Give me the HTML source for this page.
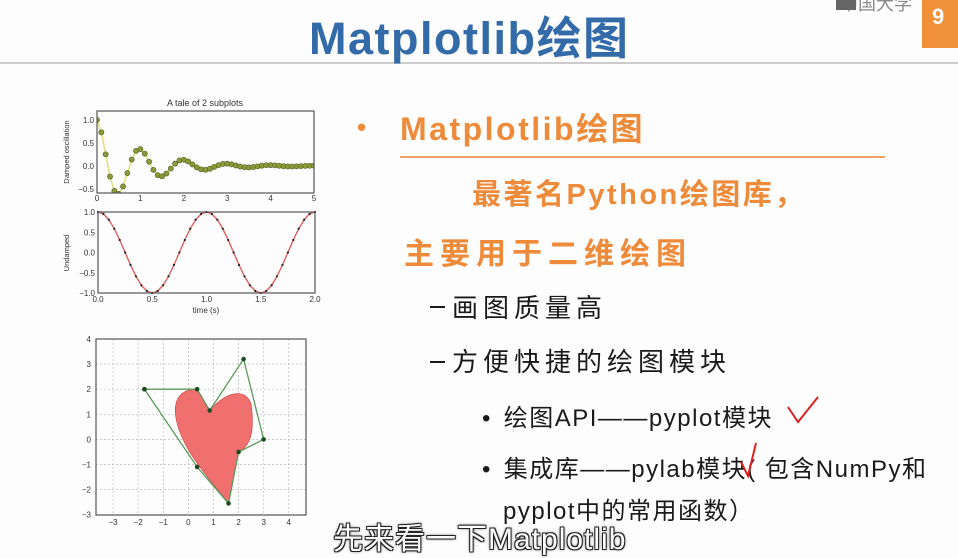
<!DOCTYPE html>
<html><head><meta charset="utf-8"><style>
body{margin:0;width:958px;height:555px;overflow:hidden;background:#fdfdfd;position:relative;font-family:"Liberation Sans","Noto Sans CJK SC",sans-serif}
.a{position:absolute;white-space:nowrap}
.o{color:#ee8b3a;font-weight:bold}
.k{color:#1a1a1a}
</style></head><body>
<div class="a" style="left:922px;top:0;width:36px;height:48px;background:#f0913a"></div>
<div class="a" style="left:932px;top:4px;color:#fff;font-weight:bold;font-size:22px">9</div>
<div class="a" style="left:840px;top:-10px;color:#888;font-size:18px">中国大学</div>
<div class="a" style="left:836px;top:0;width:20px;height:10px;background:#666"></div>
<div class="a" style="left:0;top:62px;width:958px;height:2px;background:#ccc"></div>
<div class="a" style="left:309px;top:2px;color:#336ba8;font-weight:bold;font-size:45px;letter-spacing:1.5px">Matplotlib绘图</div>

<div class="a o" style="left:357px;top:112px;font-size:26px">•</div>
<div class="a o" style="left:400px;top:104px;font-size:32px;letter-spacing:2.5px">Matplotlib绘图</div>
<div class="a" style="left:400px;top:156px;width:485px;height:2px;background:#f0a060"></div>
<div class="a o" style="left:472px;top:171px;font-size:29px;letter-spacing:2.5px">最著名Python绘图库，</div>
<div class="a o" style="left:404px;top:229px;font-size:30px;letter-spacing:6px">主要用于二维绘图</div>
<div class="a" style="left:430px;top:306px;width:15px;height:2px;background:#1a1a1a"></div>
<div class="a k" style="left:452px;top:288px;font-size:26px;letter-spacing:5px">画图质量高</div>
<div class="a" style="left:430px;top:361px;width:15px;height:2px;background:#1a1a1a"></div>
<div class="a k" style="left:452px;top:342px;font-size:26px;letter-spacing:5px">方便快捷的绘图模块</div>
<div class="a k" style="left:482px;top:398px;font-size:24px">•&nbsp; <span style="letter-spacing:1.5px">绘图API——pyplot模块</span></div>
<div class="a k" style="left:482px;top:449px;font-size:24px">•&nbsp; <span style="letter-spacing:1.5px">集成库——pylab模块( 包含NumPy和</span></div>
<div class="a k" style="left:503px;top:491px;font-size:24px;letter-spacing:1.5px">pyplot中的常用函数）</div>
<svg class="a" style="left:0;top:0" width="958" height="555">
<path d="M788 407 L798 422 L818 397" stroke="#d22" stroke-width="2" fill="none"/>
<path d="M741 462 L748 476 L756 443" stroke="#d22" stroke-width="2" fill="none"/>
</svg>
<div class="a" style="left:333px;top:514px;font-size:30px;color:#fff;letter-spacing:1px;text-shadow:-1px -1px 0 #222,1px -1px 0 #222,-1px 1px 0 #222,1px 1px 0 #222,0 0 3px #000">先来看一下Matplotlib</div>

<svg id="g" class="a" style="left:0;top:0" width="958" height="555" font-family="Liberation Sans, sans-serif" font-size="8" fill="#333"></svg>
<script>
var s='';
function L(x1,y1,x2,y2,c,w,d){s+='<line x1="'+x1+'" y1="'+y1+'" x2="'+x2+'" y2="'+y2+'" stroke="'+c+'" stroke-width="'+w+'"'+(d?' stroke-dasharray="'+d+'"':'')+'/>';}
function T(x,y,t,a,extra){s+='<text x="'+x+'" y="'+y+'" text-anchor="'+(a||'middle')+'"'+(extra||'')+'>'+t+'</text>';}
var X0=97,X1=314;
function p1x(t){return X0+t*(X1-X0)/5}function p1y(v){return 120+(1-v)*46}
s+='<text x="205" y="106" text-anchor="middle" font-size="9">A tale of 2 subplots</text>';
var pts=[];for(var i=0;i<=50;i++){var t=i/10;var v=Math.cos(2*Math.PI*t)*Math.exp(-t);pts.push([p1x(t),p1y(v)]);}
s+='<svg x="97" y="111" width="217" height="82" viewBox="97 111 217 82">';
s+='<polyline points="'+pts.join(' ')+'" fill="none" stroke="#dde07a" stroke-width="1.5"/>';
pts.forEach(function(p){s+='<circle cx="'+p[0]+'" cy="'+p[1]+'" r="2.6" fill="#8a9a3a" stroke="#556020" stroke-width=".6"/>';});
s+='</svg>';
s+='<rect x="97" y="111" width="217" height="82" fill="none" stroke="#555" stroke-width="1.2"/>';
[1,0.5,0,-0.5].forEach(function(v){T(94,p1y(v)+3,(v<0?'−':'')+Math.abs(v).toFixed(1),'end');});
for(var k=0;k<=5;k++)T(p1x(k),201,k);
s+='<text transform="translate(69,152) rotate(-90)" text-anchor="middle" font-size="7.5">Damped oscillation</text>';
function p2x(t){return 98+t*217/2}function p2y(v){return 212+(1-v)*40.5}
var q=[];for(var i=0;i<=40;i++){var t=i/20;q.push([p2x(t),p2y(Math.cos(2*Math.PI*t))]);}
s+='<polyline points="'+q.join(' ')+'" fill="none" stroke="#e06060" stroke-width="1.4"/>';
q.forEach(function(p){s+='<circle cx="'+p[0]+'" cy="'+p[1]+'" r="1.1" fill="#222"/>';});
s+='<rect x="98" y="212" width="217" height="81" fill="none" stroke="#555" stroke-width="1.2"/>';
[1,0.5,0,-0.5,-1].forEach(function(v){T(95,p2y(v)+3,(v<0?'−':'')+Math.abs(v).toFixed(1),'end');});
[0,0.5,1,1.5,2].forEach(function(v){T(p2x(v),302,v.toFixed(1));});
T(206,313,'time (s)');
s+='<text transform="translate(69,253) rotate(-90)" text-anchor="middle" font-size="7.5">Undamped</text>';
function px(x){return 96+(x+3.68)*25.1}function py(y){return 339+(4-y)*25.1}
for(var k=-3;k<=4;k++){L(px(k),339,px(k),515,'#bbb',.7,'2,2');L(96,py(k),306,py(k),'#bbb',.7,'2,2');T(px(k),525,(k<0?'−':'')+Math.abs(k));T(91,py(k)+3,(k<0?'−':'')+Math.abs(k),'end');}
var d='M'+px(1.6)+' '+py(-2.55)+' L'+px(2)+' '+py(-0.5)+' C'+px(2.6)+' '+py(-0.2)+' '+px(2.6)+' '+py(0.6)+' '+px(2.5)+' '+py(1.4)+' C'+px(2.3)+' '+py(2)+' '+px(1.6)+' '+py(2)+' '+px(0.85)+' '+py(1.15)+' L'+px(0.35)+' '+py(2)+' C'+px(-0.3)+' '+py(2)+' '+px(-0.6)+' '+py(1.6)+' '+px(-0.5)+' '+py(0.9)+' C'+px(-0.3)+' '+py(-0.3)+' '+px(0.6)+' '+py(-1.3)+' '+px(1.6)+' '+py(-2.55)+'Z';
s+='<path d="'+d+'" fill="#f07070" stroke="#d05050" stroke-width=".8"/>';
var P=[[-1.75,2],[0.35,2],[0.85,1.15],[2.2,3.2],[3,0],[2,-0.5],[1.6,-2.55],[0.35,-1.1],[-1.75,2]];
s+='<polyline points="'+P.map(function(p){return px(p[0])+','+py(p[1])}).join(' ')+'" fill="none" stroke="#5a9a5a" stroke-width="1.3"/>';
P.forEach(function(p){s+='<circle cx="'+px(p[0])+'" cy="'+py(p[1])+'" r="2.3" fill="#1f4a1f"/>';});
s+='<rect x="96" y="339" width="210" height="176" fill="none" stroke="#555" stroke-width="1.2"/>';
document.getElementById('g').innerHTML=s;
</script>
</body></html>
